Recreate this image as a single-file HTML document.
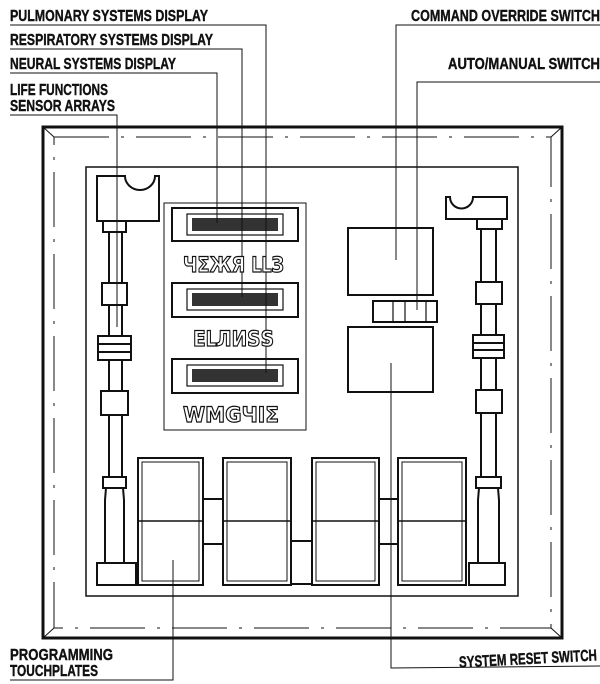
<!DOCTYPE html>
<html><head><meta charset="utf-8"><style>
html,body{margin:0;padding:0;background:#fff;}
svg{display:block}
.lb{font-family:"Liberation Sans",sans-serif;font-weight:bold;font-size:16px;fill:#111;stroke:#111;stroke-width:0.4;}
.gl{font-family:"DejaVu Sans","Liberation Sans",sans-serif;font-weight:bold;font-size:21px;fill:#fff;stroke:#111;stroke-width:1.2;}
</style></head><body>
<svg width="600" height="684" viewBox="0 0 600 684" xmlns="http://www.w3.org/2000/svg">
<g fill="none" stroke="#111">
<rect x="43" y="127" width="519" height="511" stroke-width="3"/>
<rect x="54" y="137" width="497" height="491" stroke-width="1" stroke-dasharray="55,12,3,12"/>
<line x1="43" y1="127" x2="54" y2="137" stroke-width="1"/>
<line x1="562" y1="127" x2="551" y2="137" stroke-width="1"/>
<line x1="43" y1="638" x2="54" y2="628" stroke-width="1"/>
<line x1="562" y1="638" x2="551" y2="628" stroke-width="1"/>
<rect x="86" y="167" width="432" height="429" stroke-width="1.5"/>
<rect x="164" y="203" width="142" height="227" stroke-width="1"/>
<g stroke-width="2">
<rect x="172" y="208" width="126" height="33"/>
<rect x="172" y="283" width="126" height="34"/>
<rect x="172" y="359" width="126" height="34"/>
</g>
<g stroke-width="1.2">
<rect x="187" y="214" width="96" height="21"/>
<rect x="187" y="289" width="96" height="21"/>
<rect x="187" y="365" width="96" height="21"/>
</g>
<g fill="#333" stroke="none">
<rect x="192" y="218" width="86" height="13"/>
<rect x="192" y="293" width="86" height="13"/>
<rect x="192" y="369" width="86" height="13"/>
</g>
<g stroke-width="2">
<rect x="348" y="228" width="85" height="67"/>
<rect x="373" y="301" width="64" height="21"/>
<rect x="348" y="327" width="85" height="65"/>
</g>
<line x1="393" y1="301" x2="393" y2="322" stroke-width="1.2"/>
<line x1="405" y1="301" x2="405" y2="322" stroke-width="1.2"/>
<line x1="426" y1="301" x2="426" y2="322" stroke-width="1.2"/>
<g stroke-width="2">
<path d="M97 176 H125 A15 14 0 0 0 155 176 H159 V221 H97 Z"/>
<rect x="103" y="221" width="23" height="11"/>
<line x1="109" y1="232" x2="109" y2="477"/>
<line x1="122" y1="232" x2="122" y2="477"/>
<rect x="102" y="283" width="25" height="22" fill="#fff"/>
<rect x="98" y="336" width="33" height="24" fill="#fff"/>
<line x1="98" y1="344" x2="131" y2="344"/>
<line x1="98" y1="352" x2="131" y2="352"/>
<rect x="101" y="391" width="27" height="24" fill="#fff"/>
<rect x="103" y="477" width="23" height="11" fill="#fff"/>
<path d="M106 488 L105 500 V563 M123 488 L124 500 V563"/>
<rect x="97" y="563" width="39" height="22"/>
</g>
<g stroke-width="2">
<path d="M446 197 H450 A10 10 0 0 0 473 197 H507 V219 H446 Z"/>
<rect x="477" y="219" width="25" height="10"/>
<line x1="481" y1="229" x2="481" y2="477"/>
<line x1="496" y1="229" x2="496" y2="477"/>
<rect x="476" y="282" width="26" height="22" fill="#fff"/>
<rect x="473" y="335" width="31" height="23" fill="#fff"/>
<line x1="473" y1="343" x2="504" y2="343"/>
<line x1="473" y1="350" x2="504" y2="350"/>
<rect x="476" y="390" width="26" height="23" fill="#fff"/>
<rect x="476" y="477" width="25" height="11" fill="#fff"/>
<path d="M479 488 L478 500 V563 M498 488 L499 500 V563"/>
<rect x="469" y="563" width="36" height="22"/>
</g>
<g stroke-width="2">
<rect x="138" y="458" width="65" height="127"/>
<rect x="223" y="458" width="68" height="127"/>
<rect x="312" y="458" width="67" height="127"/>
<rect x="398" y="458" width="68" height="127"/>
<line x1="203" y1="499" x2="223" y2="499"/>
<line x1="203" y1="544" x2="223" y2="544"/>
<line x1="291" y1="541" x2="312" y2="541"/>
<line x1="291" y1="584" x2="312" y2="584"/>
<line x1="379" y1="499" x2="398" y2="499"/>
<line x1="379" y1="544" x2="398" y2="544"/>
</g>
<g stroke-width="1">
<rect x="142" y="462" width="57" height="119"/>
<rect x="227" y="462" width="60" height="119"/>
<rect x="316" y="462" width="59" height="119"/>
<rect x="402" y="462" width="60" height="119"/>
</g>
<g stroke-width="1.5">
<line x1="138" y1="521" x2="203" y2="521"/>
<line x1="223" y1="521" x2="291" y2="521"/>
<line x1="312" y1="521" x2="379" y2="521"/>
<line x1="398" y1="521" x2="466" y2="521"/>
</g>
<g stroke-width="1">
<polyline points="10,25 266,25 266,373"/>
<polyline points="10,49 242,49 242,297"/>
<polyline points="10,73 217,73 217,223"/>
<polyline points="10,115 117,115 117,327"/>
<polyline points="600,25 396,25 396,260"/>
<polyline points="600,82 417,82 417,310"/>
<polyline points="391,363 391,668 600,666"/>
<polyline points="173,560 173,680 10,680"/>
</g>
</g>
<text class="gl" x="183" y="272" textLength="101" lengthAdjust="spacingAndGlyphs">ЧΣЖЯ ԼԼЗ</text>
<text class="gl" x="193" y="346" textLength="81" lengthAdjust="spacingAndGlyphs">ΕԼЛИЅЅ</text>
<text class="gl" x="183" y="422" textLength="96" lengthAdjust="spacingAndGlyphs">WΜGЧΙΣ</text>
<text class="lb" x="10" y="21" textLength="198" lengthAdjust="spacingAndGlyphs">PULMONARY SYSTEMS DISPLAY</text>
<text class="lb" x="10" y="45" textLength="203" lengthAdjust="spacingAndGlyphs">RESPIRATORY SYSTEMS DISPLAY</text>
<text class="lb" x="10" y="69" textLength="166" lengthAdjust="spacingAndGlyphs">NEURAL SYSTEMS DISPLAY</text>
<text class="lb" x="10" y="95" textLength="98" lengthAdjust="spacingAndGlyphs">LIFE FUNCTIONS</text>
<text class="lb" x="10" y="111" textLength="105" lengthAdjust="spacingAndGlyphs">SENSOR ARRAYS</text>
<text class="lb" x="411" y="21" textLength="189" lengthAdjust="spacingAndGlyphs">COMMAND OVERRIDE SWITCH</text>
<text class="lb" x="448" y="69" textLength="152" lengthAdjust="spacingAndGlyphs">AUTO/MANUAL SWITCH</text>
<text class="lb" x="10" y="660" textLength="103" lengthAdjust="spacingAndGlyphs">PROGRAMMING</text>
<text class="lb" x="10" y="676" textLength="88" lengthAdjust="spacingAndGlyphs">TOUCHPLATES</text>
<text class="lb" x="459" y="664" textLength="138" lengthAdjust="spacingAndGlyphs" transform="rotate(-3 528 660)">SYSTEM RESET SWITCH</text>
</svg>
</body></html>
